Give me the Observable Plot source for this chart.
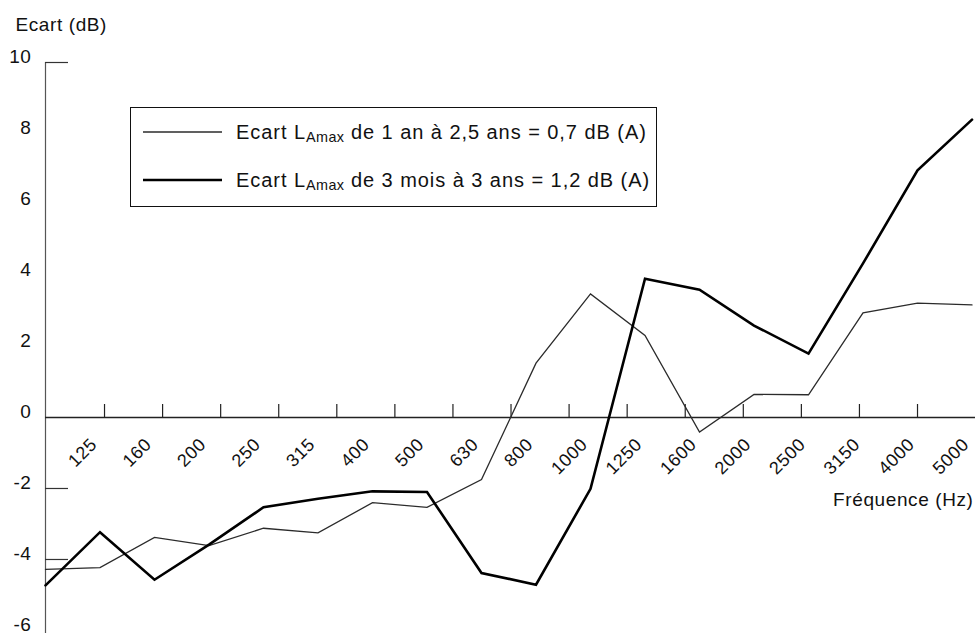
<!DOCTYPE html>
<html>
<head>
<meta charset="utf-8">
<script src="https://cdn.jsdelivr.net/npm/d3@7"></script>
<script src="https://cdn.jsdelivr.net/npm/@observablehq/plot@0.6"></script>
<style>
  body { margin: 0; background: #fff; }
  #chart { position: relative; width: 975px; height: 633px; font-family: "Liberation Sans", Arial, sans-serif; color: #111; }
  #chart svg text { letter-spacing: 0.6px; }
  #legend { position: absolute; left: 130px; top: 107px; width: 527px; height: 100px; box-sizing: border-box;
            border: 1px solid #111; background: #fff; }
  .row { position: absolute; left: 12px; display: flex; align-items: center; font-size: 20px;
         letter-spacing: 0.95px; white-space: nowrap; height: 24px; }
  .row svg { margin-right: 14px; }
  .row sub { font-size: 0.72em; position: relative; top: 0.22em; vertical-align: baseline; letter-spacing: 0.4px; }
</style>
</head>
<body>
<div id="chart"></div>
<script>
// Third-octave band centre frequencies (Hz) labelled along the axis
const freqLabels = ["125", "160", "200", "250", "315", "400", "500", "630", "800",
                    "1000", "1250", "1600", "2000", "2500", "3150", "4000", "5000"];

// Level difference (dB) per band, starting at the vertical axis
const ecart1an25ans = [-4.28, -4.23, -3.38, -3.61, -3.12, -3.25, -2.40, -2.53, -1.75,
                       1.53, 3.48, 2.31, -0.41, 0.65, 0.64, 2.95, 3.22, 3.17];
const ecart3mois3ans = [-4.73, -3.23, -4.57, -3.58, -2.53, -2.29, -2.08, -2.10, -4.38,
                        -4.71, -2.01, 3.91, 3.60, 2.59, 1.80, 4.34, 6.96, 8.39];

// Vertical axis
const yTickLabels = [10, 8, 6, 4, 2, 0, -2, -4, -6];
const yTickMarks = [10, -2, -4];

const series = [
  {name: "Ecart LAmax de 1 an à 2,5 ans = 0,7 dB (A)", values: ecart1an25ans, stroke: "#2b2b2b", width: 1.3},
  {name: "Ecart LAmax de 3 mois à 3 ans = 1,2 dB (A)", values: ecart3mois3ans, stroke: "#000", width: 2.6}
];

const xMax = 17.064;
const width = 975, height = 633, marginLeft = 45, marginRight = 0;
// 15 small ticks drawn up from the zero line
const xTickMarks = d3.range(15).map(k => 1.083 + k * 1.0655);

const marks = [
  Plot.ruleX([0], {stroke: "#555", strokeWidth: 1.2}),
  Plot.ruleY([0], {stroke: "#222", strokeWidth: 1.3}),
  Plot.ruleY(yTickMarks, {stroke: "#333", strokeWidth: 1.2,
    insetRight: width - marginLeft - marginRight - 23}),
  Plot.ruleX(xTickMarks, {y1: 0, y2: 13 / 35.5, stroke: "#222", strokeWidth: 1.2}),
  Plot.axisY(yTickLabels, {tickSize: 0, tickPadding: 14, dy: -6, fontSize: 19, label: null,
    tickFormat: d => String(d), fill: "#111"}),
  Plot.text(freqLabels, {x: (d, i) => i + 1, y: () => 0, text: d => d, rotate: -45,
    textAnchor: "end", dx: -6, dy: 24, fontSize: 18, fill: "#111"}),
  Plot.text(["Fréquence (Hz)"], {x: () => xMax, y: () => 0, text: d => d,
    textAnchor: "end", dx: -2, dy: 82, fontSize: 19, fill: "#111"}),
  Plot.text(["Ecart (dB)"], {frameAnchor: "top-left", text: d => d, textAnchor: "start",
    lineAnchor: "middle", dx: -30, dy: -38, fontSize: 19, fill: "#111"})
];

for (const s of series) {
  marks.push(Plot.line(s.values.map((v, i) => ({i, v})), {
    x: "i", y: "v", stroke: s.stroke, strokeWidth: s.width, strokeLinejoin: "miter", strokeMiterlimit: 4
  }));
}

const plot = Plot.plot({
  width, height, marginLeft, marginRight, marginTop: 62, marginBottom: 0,
  x: {domain: [0, xMax], axis: null},
  y: {domain: [-6.085, 10], axis: null},
  style: {fontFamily: "'Liberation Sans', Arial, sans-serif", background: "#fff", overflow: "visible"},
  marks
});

const chart = document.getElementById("chart");
chart.appendChild(plot);

// Legend box inside the plot area
const legend = document.createElement("div");
legend.id = "legend";
const rowTops = [12, 60];
series.forEach((s, k) => {
  const row = document.createElement("div");
  row.className = "row";
  row.style.top = rowTops[k] + "px";
  row.innerHTML =
    `<svg width="79" height="8"><line x1="0" x2="79" y1="4" y2="4" stroke="${s.stroke}" stroke-width="${s.width}"/></svg>` +
    `<span>${s.name.replace("LAmax", "L<sub>Amax</sub>")}</span>`;
  legend.appendChild(row);
});
chart.appendChild(legend);
</script>
</body>
</html>
